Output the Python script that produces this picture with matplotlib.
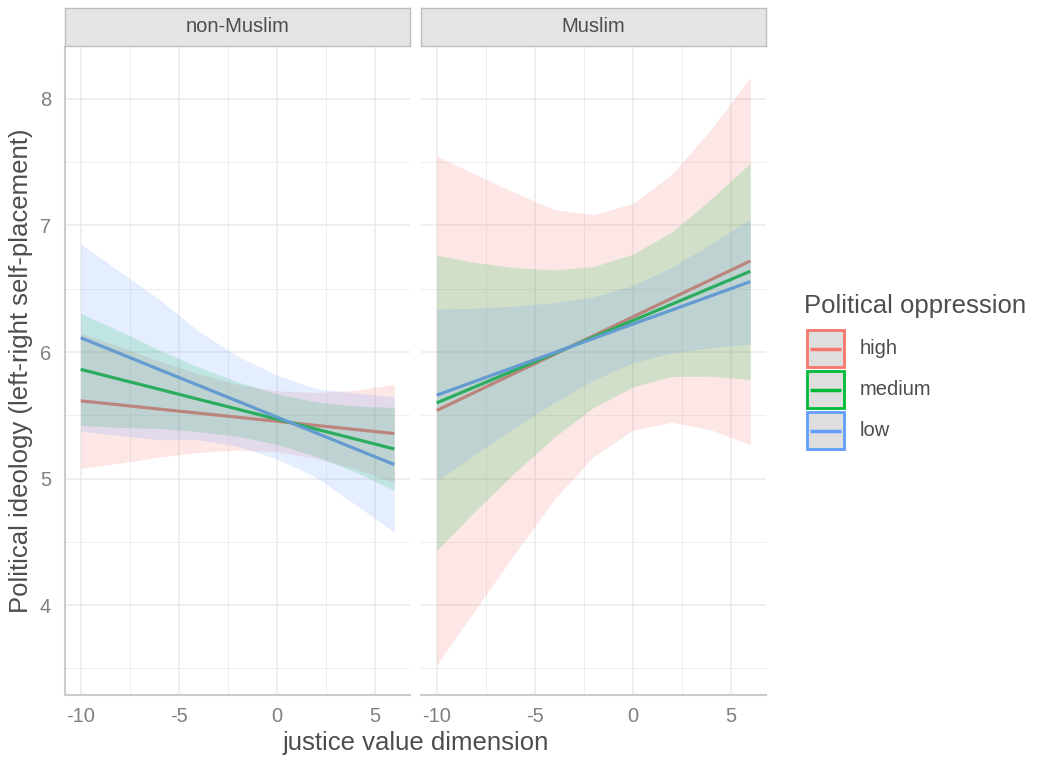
import numpy as np
import matplotlib.pyplot as plt
from matplotlib.patches import Rectangle

plt.rcParams['font.family'] = ['Liberation Sans', 'DejaVu Sans']
plt.rcParams['axes.unicode_minus'] = False

# predicted ideology at each value of the justice dimension
justice = [-10, -8, -6, -4, -2, 0, 2, 4, 6]
levels = ['high', 'medium', 'low']
panels = ['non-Muslim', 'Muslim']
colors = {'high': '#F8766D', 'medium': '#00BA38', 'low': '#619CFF'}

# non-Muslim
nm_high_fit = [5.614, 5.582, 5.549, 5.517, 5.485, 5.453, 5.420, 5.388, 5.356]
nm_high_lo = [5.079, 5.122, 5.169, 5.207, 5.225, 5.213, 5.160, 5.078, 4.968]
nm_high_hi = [6.149, 6.042, 5.929, 5.827, 5.745, 5.693, 5.680, 5.698, 5.744]
nm_med_fit = [5.863, 5.784, 5.706, 5.627, 5.549, 5.470, 5.391, 5.313, 5.234]
nm_med_lo = [5.420, 5.404, 5.396, 5.372, 5.334, 5.270, 5.176, 5.053, 4.906]
nm_med_hi = [6.306, 6.164, 6.016, 5.882, 5.764, 5.670, 5.606, 5.573, 5.562]
nm_low_fit = [6.113, 5.988, 5.862, 5.737, 5.612, 5.487, 5.361, 5.236, 5.111]
nm_low_lo = [5.373, 5.340, 5.307, 5.307, 5.257, 5.156, 5.011, 4.796, 4.576]
nm_low_hi = [6.853, 6.636, 6.417, 6.167, 5.967, 5.818, 5.711, 5.676, 5.646]

# Muslim
mu_high_fit = [5.538, 5.686, 5.834, 5.981, 6.129, 6.277, 6.425, 6.572, 6.720]
mu_high_lo = [3.526, 3.970, 4.409, 4.837, 5.173, 5.382, 5.445, 5.384, 5.268]
mu_high_hi = [7.550, 7.402, 7.259, 7.125, 7.085, 7.172, 7.405, 7.760, 8.172]
mu_med_fit = [5.598, 5.728, 5.858, 5.988, 6.118, 6.248, 6.378, 6.508, 6.638]
mu_med_lo = [4.431, 4.749, 5.049, 5.327, 5.561, 5.723, 5.807, 5.808, 5.783]
mu_med_hi = [6.765, 6.707, 6.667, 6.649, 6.675, 6.773, 6.949, 7.208, 7.493]
mu_low_fit = [5.659, 5.771, 5.883, 5.995, 6.107, 6.220, 6.332, 6.444, 6.556]
mu_low_lo = [4.979, 5.196, 5.403, 5.600, 5.777, 5.915, 5.992, 6.034, 6.062]
mu_low_hi = [6.339, 6.346, 6.363, 6.390, 6.437, 6.525, 6.672, 6.854, 7.050]

data = {
    'non-Muslim': {
        'high': (nm_high_fit, nm_high_lo, nm_high_hi),
        'medium': (nm_med_fit, nm_med_lo, nm_med_hi),
        'low': (nm_low_fit, nm_low_lo, nm_low_hi),
    },
    'Muslim': {
        'high': (mu_high_fit, mu_high_lo, mu_high_hi),
        'medium': (mu_med_fit, mu_med_lo, mu_med_hi),
        'low': (mu_low_fit, mu_low_lo, mu_low_hi),
    },
}

text_col = '#4d4d4d'
tick_col = '#808080'
grid_col = '#ebebeb'

W, H = 1037, 763
fig = plt.figure(figsize=(W / 100, H / 100), dpi=100)

panel_left = [65, 421]
panel_w = 345
panel_top, panel_bottom = 47, 695

for i, name in enumerate(panels):
    left = panel_left[i]
    ax = fig.add_axes([left / W, 1 - panel_bottom / H, panel_w / W,
                       (panel_bottom - panel_top) / H])
    # lines first, ribbons on top (as drawn by ggplot)
    for lev in levels:
        fit, lo, hi = data[name][lev]
        ax.plot(justice, fit, color=colors[lev], lw=2.3, zorder=2,
                solid_capstyle='butt')
    for lev in levels:
        fit, lo, hi = data[name][lev]
        ax.fill_between(justice, lo, hi, color=colors[lev], alpha=0.17,
                        lw=0, zorder=3)

    ax.set_xlim(-10.8, 6.8)
    ax.set_ylim(3.29, 8.41)
    ax.set_xticks([-10, -5, 0, 5])
    ax.set_xticks([-7.5, -2.5, 2.5], minor=True)
    ax.set_yticks([4, 5, 6, 7, 8])
    ax.set_yticks([3.5, 4.5, 5.5, 6.5, 7.5], minor=True)
    ax.grid(which='major', color=grid_col, lw=1.15, zorder=0)
    ax.grid(which='minor', color=grid_col, lw=0.6, zorder=0)
    ax.set_axisbelow(True)
    ax.tick_params(which='both', length=0, labelsize=14.5,
                   labelcolor=tick_col)
    ax.tick_params(axis='x', pad=9)
    ax.tick_params(axis='y', pad=10)
    for s in ['top', 'right']:
        ax.spines[s].set_visible(False)
    ax.spines['bottom'].set_color('#cbcbcb')
    ax.spines['bottom'].set_linewidth(1.5)
    if i == 0:
        ax.spines['left'].set_color('#cbcbcb')
        ax.spines['left'].set_linewidth(1.5)
    else:
        ax.spines['left'].set_visible(False)
        ax.tick_params(axis='y', labelleft=False)

    # facet strip
    sx = fig.add_axes([left / W, 1 - 46 / H, panel_w / W, 38 / H])
    sx.set_facecolor('#e4e4e4')
    sx.set_xticks([])
    sx.set_yticks([])
    for s in sx.spines.values():
        s.set_color('#bdbdbd')
        s.set_linewidth(1.0)
    sx.text(0.5, 0.5, name, ha='center', va='center', fontsize=14.5,
            color=text_col, transform=sx.transAxes)

fig.text(415.5 / W, 1 - 743 / H, 'justice value dimension', ha='center',
         va='center', fontsize=18.5, color=text_col)
fig.text(21 / W, 1 - 371 / H, 'Political ideology (left-right self-placement)',
         ha='center', va='center', rotation=90, fontsize=18.5, color=text_col)

# legend drawn by hand in pixel space
lg = fig.add_axes([0, 0, 1, 1], zorder=-1)
lg.set_xlim(0, W)
lg.set_ylim(H, 0)
lg.axis('off')
lg.text(804, 313, 'Political oppression', fontsize=18.5, color=text_col,
        va='baseline', ha='left')
for k, lev in enumerate(levels):
    top = 330 + 41 * k
    lg.add_patch(Rectangle((807, top), 37, 37, facecolor='#dedede',
                           edgecolor=colors[lev], lw=2))
    lg.plot([810, 841], [top + 18.5, top + 18.5], color=colors[lev], lw=2.5,
            solid_capstyle='butt')
    lg.text(860, top + 18.5, lev, fontsize=14.5, color=text_col,
            va='center', ha='left')

fig.savefig('out.png', dpi=100)
